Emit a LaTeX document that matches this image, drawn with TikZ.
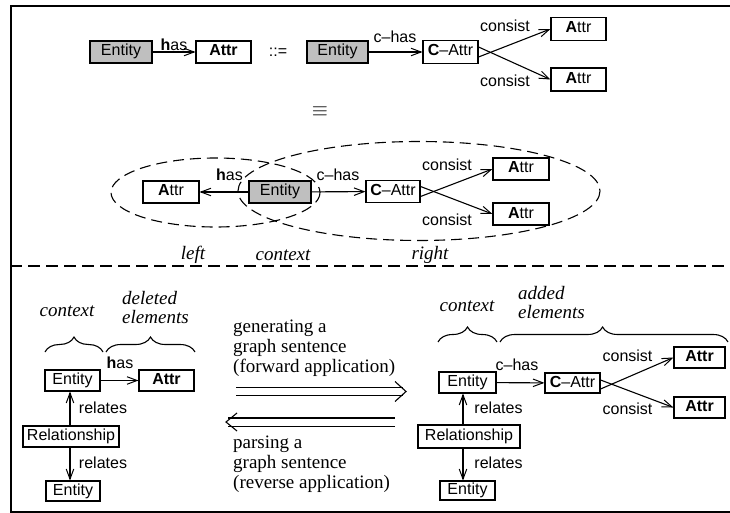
\documentclass[tikz,border=0pt]{standalone}
\usepackage{fontspec}
\setmainfont{Liberation Serif}
\setsansfont{Liberation Sans}
\usetikzlibrary{arrows.meta,decorations.pathreplacing,calc}
\begin{document}
\begin{tikzpicture}[x=1pt,y=-1pt,
  box/.style={draw,line width=1.1pt,inner sep=0pt,minimum height=22pt,text height=11.5pt,text depth=3.5pt,font=\sffamily\fontsize{16}{19}\selectfont},
  ent/.style={box,fill=gray!50},
  lbl/.style={inner sep=0pt,font=\sffamily\fontsize{16}{19}\selectfont},
  itl/.style={inner sep=0pt,font=\rmfamily\itshape\fontsize{19}{19}\selectfont},
  itlb/.style={inner sep=0pt,align=left,font=\rmfamily\itshape\fontsize{19}{19}\selectfont},
  rmtext/.style={inner sep=0pt,align=left,font=\rmfamily\fontsize{19}{20}\selectfont},
  arr/.style={line width=1.1pt,-{Straight Barb[length=10pt,width=7.5pt,line width=1pt]}},
  ell/.style={line width=1.1pt,dash pattern=on 11pt off 6pt},
  brc/.style={line width=1.1pt,decorate,decoration={brace,amplitude=15pt}},
  dbl/.style={line width=1.1pt,double distance=7pt},
  chev/.style={line width=1.1pt},
]
\useasboundingbox (0,0) rectangle (730,513);
\clip (0,0) rectangle (730,513);
\draw[line width=2pt] (10.5,6) rectangle (745,511.5);

% ---- top row
\node[ent,minimum width=62pt] (e1) at (121,52) {Entity};
\node[box,minimum width=55pt] (a1) at (223.5,52) {\textbf{Attr}};
\node[lbl] (def) at (278,52) {::=};
\node[ent,minimum width=61pt] (e2) at (337.5,52) {Entity};
\node[box,minimum width=55pt,minimum height=23pt] (c1) at (450.5,52) {\textbf{C}--Attr};
\node[box,minimum width=55pt,minimum height=23pt] (a2) at (578.5,29) {\textbf{A}ttr};
\node[box,minimum width=55pt,minimum height=23pt] (a3) at (578.5,79.5) {\textbf{A}ttr};
\draw[arr] (e1) -- node[lbl,above=1pt] (l1) {\textbf{h}as} (a1);
\draw[arr] (e2) -- (c1);
\node[lbl] (l2) at (395,37) {c--has};
\draw[arr] ([yshift=-5pt]c1.east) -- (a2.west);
\draw[arr] ([yshift=5pt]c1.east) -- (a3.west);
\node[lbl] (l3) at (505,26) {consist};
\node[lbl] (l4) at (505,81) {consist};
\node[inner sep=0pt,font=\fontsize{20}{24}\selectfont] (eqv) at (320,112) {$\equiv$};

% ---- middle row
\draw[ell] (215.5,192.5) ellipse [x radius=104.5, y radius=34.5];
\draw[ell] (419,191) ellipse [x radius=181, y radius=49.5];
\node[box,minimum width=56pt] (a4) at (171,192) {\textbf{A}ttr};
\node[ent,minimum width=62pt] (e3) at (280,192) {Entity};
\node[box,minimum width=54pt] (c2) at (393,191.5) {\textbf{C}--Attr};
\node[box,minimum width=56pt] (a5) at (521,169) {\textbf{A}ttr};
\node[box,minimum width=56pt] (a6) at (521,214) {\textbf{A}ttr};
\draw[arr] (e3) -- (a4);
\draw[arr] (e3) -- (c2);
\draw[arr] ([yshift=-5pt]c2.east) -- (a5.west);
\draw[arr] ([yshift=5pt]c2.east) -- (a6.west);
\node[lbl] (l5) at (229.5,175) {\textbf{h}as};
\node[lbl] (l6) at (338,175) {c--has};
\node[lbl] (l7) at (447,165) {consist};
\node[lbl] (l8) at (447,220) {consist};
\node[itl] (tleft) at (193,255) {left};
\node[itl] (tctx) at (283,255) {context};
\node[itl] (tright) at (430,255) {right};

\draw[line width=1.4pt,dash pattern=on 12pt off 6pt] (10,266) -- (730,266);

% ---- bottom left
\node[itl] (bctx1) at (67,311) {context};
\node[itlb,anchor=west] (bdel) at (122,307.5) {deleted\\elements};
\draw[brc] (45,352) -- (103,352);
\draw[brc] (106,352) -- (195,352);
\node[box,minimum width=55pt,minimum height=21pt] (e4) at (72.5,380.5) {Entity};
\node[box,minimum width=55pt,minimum height=21pt] (a7) at (166.5,380.5) {\textbf{Attr}};
\node[box,minimum width=96pt,minimum height=21pt] (r1) at (71,436.5) {Relationship};
\node[box,minimum width=54pt,minimum height=20pt] (e5) at (73,491) {Entity};
\draw[arr] (e4) -- (a7);
\node[lbl] (l9) at (120,363) {\textbf{h}as};
\draw[arr] ([xshift=-1pt]r1.north) -- ([xshift=-1pt]r1.north |- e4.south);
\draw[arr] ([xshift=-1pt]r1.south) -- ([xshift=-1pt]r1.south |- e5.north);
\node[lbl] (l10) at (103,408) {relates};
\node[lbl] (l11) at (103,463) {relates};

% ---- middle arrows
\node[rmtext,anchor=west] (gen) at (233,348) {generating a\\graph sentence\\(forward application)};
\node[rmtext,anchor=west] (par) at (233,464) {parsing a\\graph sentence\\(reverse application)};
\coordinate (f1) at (236,391.5);
\coordinate (f2) at (403,391.5);
\coordinate (ft) at (406,391.5);
\draw[dbl] (f1) -- (f2);
\draw[chev] ([shift={(-11,-10)}]ft) -- (ft) -- ([shift={(-11,10)}]ft);
\coordinate (b1) at (395,422);
\coordinate (b2) at (228,422);
\coordinate (bt) at (226,422);
\draw[dbl] (b1) -- (b2);
\draw[chev] ([shift={(11,-9)}]bt) -- (bt) -- ([shift={(11,9)}]bt);

% ---- bottom right
\node[itl] (bctx2) at (467,306) {context};
\node[itlb,anchor=west] (badd) at (518,302.5) {added\\elements};
\draw[brc] (438,342) -- (497,342);
\draw[brc,decoration={brace,amplitude=15pt,aspect=0.45}] (500,342) -- (728,342);
\node[box,minimum width=57pt,minimum height=21pt] (e6) at (467.5,382.5) {Entity};
\node[box,minimum width=55pt,minimum height=20pt] (c3) at (572.5,383) {\textbf{C}--Attr};
\node[box,minimum width=51pt,minimum height=21pt] (a8) at (699.5,357.5) {\textbf{Attr}};
\node[box,minimum width=51pt,minimum height=21pt] (a9) at (699.5,407.5) {\textbf{Attr}};
\node[box,minimum width=102pt,minimum height=23pt] (r2) at (469,436.5) {Relationship};
\node[box,minimum width=55pt,minimum height=19pt] (e7) at (467.5,490.5) {Entity};
\draw[arr] (e6) -- (c3);
\node[lbl] (l12) at (517,365) {c--has};
\draw[arr] ([yshift=-6pt]c3.east) -- (a8.west);
\draw[arr] ([yshift=3pt]c3.east) -- (a9.west);
\node[lbl] (l13) at (627.5,355.5) {consist};
\node[lbl] (l14) at (627.5,408.5) {consist};
\draw[arr] ([xshift=-6pt]r2.north) -- ([xshift=-6pt]r2.north |- e6.south);
\draw[arr] ([xshift=-6pt]r2.south) -- ([xshift=-6pt]r2.south |- e7.north);
\node[lbl] (l15) at (498.5,408) {relates};
\node[lbl] (l16) at (498.5,463) {relates};
\end{tikzpicture}
\end{document}
